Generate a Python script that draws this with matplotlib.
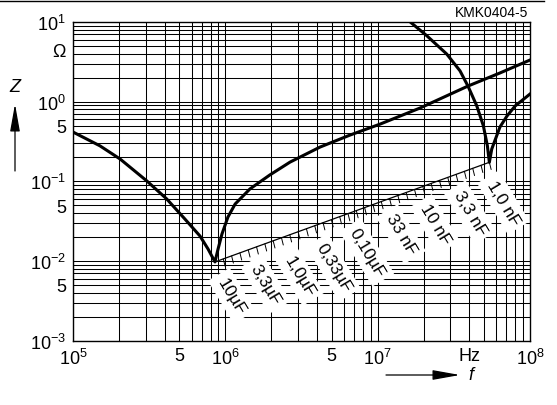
# impedance_vs_frequency.py

import numpy as np
import matplotlib
matplotlib.use("Agg")
import matplotlib.pyplot as plt
from matplotlib import font_manager
from matplotlib.lines import Line2D

# ─── 1. Values ───────────────────────────────────────────────────────────────
# capacitor with resonance near 0.85 MHz
curve_a_freq = [1.00e5, 1.50e5, 2.04e5, 3.05e5, 4.12e5, 5.43e5, 6.82e5, 7.70e5,
                8.55e5, 8.96e5, 9.50e5, 1.04e6, 1.16e6, 1.45e6, 1.96e6, 2.66e6,
                4.19e6, 6.58e6, 1.04e7, 1.90e7, 3.92e7, 6.35e7, 1.00e8]
curve_a_z = [0.415, 0.279, 0.190, 0.101, 0.060, 0.0335, 0.0205, 0.0141,
             0.0097, 0.0141, 0.0217, 0.0355, 0.0518, 0.080, 0.120, 0.174,
             0.269, 0.380, 0.523, 0.832, 1.57, 2.29, 3.33]

# 1,0 nF capacitor, resonance near 54 MHz
curve_b_freq = [1.49e7, 2.10e7, 2.84e7, 3.47e7, 3.92e7, 4.47e7, 4.94e7, 5.25e7,
                5.41e7, 5.61e7, 6.35e7, 7.06e7, 7.98e7, 1.00e8]
curve_b_z = [11.6, 6.73, 3.96, 2.44, 1.56, 0.888, 0.498, 0.279,
             0.173, 0.254, 0.480, 0.659, 0.880, 1.246]

# locus of the resonance minima (10 µF ... 1,0 nF)
res_freq = [8.55e5, 5.41e7]
res_z = [0.0097, 0.173]

cap_labels = ["10µF", "3,3µF", "1,0µF", "0,33µF", "0,10µF",
              "33 nF", "10 nF", "3,3 nF", "1,0 nF"]
cap_label_freq = [1.10e6, 1.84e6, 3.06e6, 5.12e6, 8.47e6,
                  1.42e7, 2.38e7, 4.04e7, 6.68e7]
cap_label_z = [0.00365, 0.00511, 0.0065, 0.00828, 0.0128,
               0.0217, 0.029, 0.0407, 0.0543]

x_ticks = [1e5, 5e5, 1e6, 5e6, 1e7, 4e7, 1e8]
x_ticklabels = ["$10^5$", "5", "$10^6$", "5", "$10^7$", "Hz", "$10^8$"]
y_ticks = [10, 4.5, 1, 0.5, 0.1, 0.05, 0.01, 0.005, 0.001]
y_ticklabels = ["$10^1$", "Ω", "$10^0$", "5", "$10^{-1}$", "5",
                "$10^{-2}$", "5", "$10^{-3}$"]

# ─── 2. Fonts ────────────────────────────────────────────────────────────────
names = {f.name for f in font_manager.fontManager.ttflist}
main_font = "Liberation Sans" if "Liberation Sans" in names else "DejaVu Sans"
plt.rcParams["font.family"] = [main_font, "DejaVu Sans"]
plt.rcParams["mathtext.fontset"] = "custom"
plt.rcParams["mathtext.rm"] = main_font
plt.rcParams["mathtext.it"] = main_font + ":italic"
fs, fs_cap, fs_id = 13, 12.5, 10

# ─── 3. Figure and log axes ──────────────────────────────────────────────────
W, H = 557, 406
fig = plt.figure(figsize=(W / 100, H / 100), dpi=100)
ax = fig.add_axes([73 / W, 1 - 341.5 / H, (530 - 73) / W, (341.5 - 23) / H])
ax.set_xscale("log")
ax.set_yscale("log")
ax.set_xlim(1e5, 1e8)
ax.set_ylim(1e-3, 1e1)

# dense datasheet grid: 1..9 in every decade
for dec in [1e5, 1e6, 1e7]:
    for m in range(1, 10):
        ax.axvline(dec * m, color="black", lw=0.75, zorder=1)
for dec in [1e-3, 1e-2, 1e-1, 1]:
    for m in range(1, 10):
        ax.axhline(dec * m, color="black", lw=0.75, zorder=1)

ax.set_xticks(x_ticks)
ax.set_xticklabels(x_ticklabels)
ax.set_yticks(y_ticks)
ax.set_yticklabels(y_ticklabels)
ax.minorticks_off()
ax.tick_params(length=0, labelsize=fs)
ax.tick_params(axis="x", pad=5)
ax.tick_params(axis="y", pad=5)
for s in ax.spines.values():
    s.set_linewidth(1.0)

# ─── 4. Curves ───────────────────────────────────────────────────────────────
ax.plot(curve_a_freq, curve_a_z, color="black", lw=2.2, zorder=4,
        solid_joinstyle="round")
ax.plot(curve_b_freq, curve_b_z, color="black", lw=2.2, zorder=4,
        solid_joinstyle="round")

# resonance line with hatch marks underneath
ax.plot(res_freq, res_z, color="black", lw=0.9, zorder=4)
n_hatch = 34
hatch_f = np.geomspace(res_freq[0], res_freq[1], n_hatch)[1:]
hatch_z = np.geomspace(res_z[0], res_z[1], n_hatch)[1:]
for hf, hz in zip(hatch_f, hatch_z):
    ax.annotate("", xy=(hf, hz), xytext=(1.3, -5.2), textcoords="offset points",
                arrowprops=dict(arrowstyle="-", lw=0.7, color="black",
                                shrinkA=0, shrinkB=0), zorder=4)

# capacitance labels, white boxes knock out the grid
for lab, lf, lz in zip(cap_labels, cap_label_freq, cap_label_z):
    ax.text(lf, lz, lab, rotation=-59, ha="center", va="center",
            rotation_mode="anchor", fontsize=fs_cap, zorder=3,
            bbox=dict(boxstyle="square,pad=0.3", fc="white", ec="none"))

# ─── 5. Axis names, arrows, id and frame line ────────────────────────────────
fig.text(15 / W, 1 - 88 / H, "Z", fontsize=fs, style="italic",
         ha="center", va="center")
ax.annotate("", xy=(15 / W, 1 - 105 / H), xytext=(15 / W, 1 - 172 / H),
            xycoords="figure fraction", textcoords="figure fraction",
            arrowprops=dict(arrowstyle="-|>,head_length=1.4,head_width=0.25",
                            lw=0.9, color="black", mutation_scale=12,
                            shrinkA=0, shrinkB=0))
ax.annotate("", xy=(460 / W, 1 - 376 / H), xytext=(386 / W, 1 - 376 / H),
            xycoords="figure fraction", textcoords="figure fraction",
            arrowprops=dict(arrowstyle="-|>,head_length=1.4,head_width=0.25",
                            lw=0.9, color="black", mutation_scale=12,
                            shrinkA=0, shrinkB=0))
fig.text(471 / W, 1 - 376 / H, "f", fontsize=fs, style="italic",
         ha="center", va="center")
fig.text(528 / W, 1 - 13 / H, "KMK0404-5", fontsize=fs_id,
         ha="right", va="center")
fig.add_artist(Line2D([0, 544 / W], [1 - 1.5 / H, 1 - 1.5 / H],
                      color="black", lw=1.0))

fig.savefig("out.png", dpi=100)
